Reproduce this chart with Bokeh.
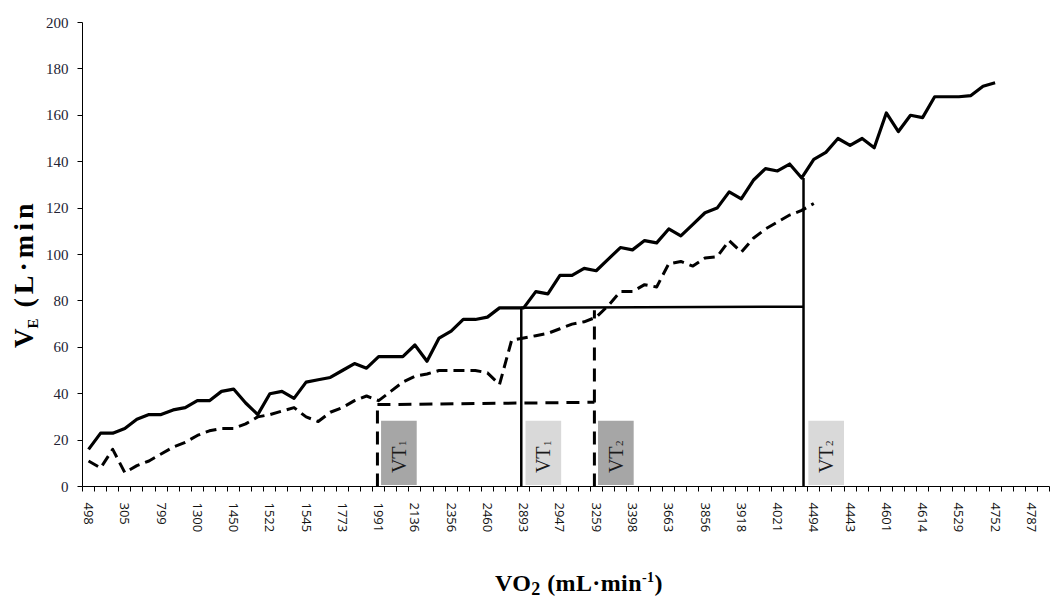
from math import pi
from bokeh.plotting import figure
from bokeh.models import Range1d, FixedTicker, Div
from bokeh.layouts import row, column
from bokeh.embed import file_html
from bokeh.resources import INLINE
from bokeh.core.properties import value

# ---------------- data ----------------
vo2_labels = ["498", "305", "799", "1300", "1450", "1522", "1545", "1773", "1991",
              "2136", "2356", "2460", "2893", "2947", "3259", "3398", "3663", "3856",
              "3918", "4021", "4494", "4443", "4601", "4614", "4529", "4752", "4787"]
n_categories = 80
label_every = 3

ve_solid = [16, 23, 23, 25, 29, 31, 31, 33, 34, 37,
            37, 41, 42, 36, 31, 40, 41, 38, 45, 46,
            47, 50, 53, 51, 56, 56, 56, 61, 54, 64,
            67, 72, 72, 73, 77, 77, 77, 84, 83, 91,
            91, 94, 93, 98, 103, 102, 106, 105, 111, 108,
            113, 118, 120, 127, 124, 132, 137, 136, 139, 133,
            141, 144, 150, 147, 150, 146, 161, 153, 160, 159,
            168, 168, 168, 168.5, 172.5, 174]

ve_dashed = [11, 8, 16, 6, 9, 11, 14, 17, 19, 22,
             24, 25, 25, 27, 30, 31, 32.5, 34, 30, 28,
             32, 34, 37, 39, 37, 41, 45, 47.5, 48.5, 50,
             50, 50, 50, 49, 44, 63, 64, 65, 66, 68,
             70, 71, 73, 78, 84, 84, 87, 86, 96, 97,
             95, 98.5, 99, 106, 101, 107, 111, 114, 117, 119,
             122]

# ventilatory thresholds: category position and VE level
vt_dashed_pos = [23.9, 41.85]      # VT1, VT2 (dashed series)
vt_dashed_level = [35.3, 76.0]
vt_dashed_link = [35.3, 36.3]      # horizontal link, left/right level
vt_solid_pos = [35.8, 59.15]       # VT1, VT2 (solid series)
vt_solid_level = [77.0, 133.0]
vt_solid_link = [77.0, 77.5]
vt_names = ["1", "2"]

# ---------------- figure ----------------
YT_W = 40          # width of the y-title strip
XT_H = 39          # height of the x-title strip
W, H = 1051 - YT_W, 599 - XT_H
p = figure(width=W, height=H, output_backend="svg", toolbar_location=None,
           x_range=Range1d(-0.5, n_categories - 0.5), y_range=Range1d(0, 200),
           min_border_left=82 - YT_W, min_border_right=2, min_border_top=22,
           min_border_bottom=H - 486)
p.outline_line_color = None
p.xgrid.visible = False
p.ygrid.visible = False
p.background_fill_color = "white"
p.border_fill_color = "white"

# x axis (category axis, label every 3rd category, ticks between categories)
label_pos = list(range(0, n_categories, label_every))[:len(vo2_labels)]
p.xaxis.ticker = FixedTicker(ticks=label_pos,
                             minor_ticks=[i - 0.5 for i in range(n_categories + 1)])
p.xaxis.major_label_overrides = {pos: lab for pos, lab in zip(label_pos, vo2_labels)}
p.xaxis.major_label_orientation = "vertical"
p.xaxis.major_tick_out = 0
p.xaxis.major_tick_in = 0
p.xaxis.minor_tick_out = 5
p.xaxis.minor_tick_in = 0
p.xaxis.minor_tick_line_color = "black"
p.xaxis.major_label_standoff = 11
p.xaxis.major_label_text_font = "Open Sans"
p.xaxis.major_label_text_font_size = "13px"
p.xaxis.major_label_text_color = "#111111"
p.xaxis.axis_line_color = "black"

# y axis
p.yaxis.ticker = FixedTicker(ticks=list(range(0, 201, 20)))
p.yaxis.major_tick_out = 5
p.yaxis.major_tick_in = 0
p.yaxis.minor_tick_line_color = None
p.yaxis.major_label_standoff = 9
p.yaxis.major_label_text_font = "Liberation Serif"
p.yaxis.major_label_text_font_size = "15px"
p.yaxis.major_label_text_color = "#222233"
p.yaxis.axis_line_color = "black"

# threshold boxes
box_left = [vt_dashed_pos[0] + 0.3, vt_solid_pos[0] + 0.35,
            vt_dashed_pos[1] + 0.3, vt_solid_pos[1] + 0.4]
box_colors = ["#a6a6a6", "#d9d9d9", "#a6a6a6", "#d9d9d9"]
box_sub = [vt_names[0], vt_names[0], vt_names[1], vt_names[1]]
p.quad(left=box_left, right=[b + 2.95 for b in box_left], bottom=0.6, top=28.3,
       fill_color=box_colors, line_color=None)
box_mid = [b + 1.45 for b in box_left]
p.text(x=box_mid, y=0.6, text=["VT"] * 4, angle=pi / 2,
       text_align="left", text_baseline="middle", y_offset=-12,
       text_font=value("Liberation Serif"), text_font_size="20px", text_color="#1a1a1a")
p.text(x=box_mid, y=0.6, text=box_sub, angle=pi / 2,
       text_align="left", text_baseline="middle", y_offset=-39, x_offset=4,
       text_font=value("Liberation Serif"), text_font_size="11px", text_color="#1a1a1a")

# threshold lines (dashed series)
p.segment(x0=[vt_dashed_pos[0], vt_dashed_pos[0], vt_dashed_pos[1]],
          y0=[0, vt_dashed_link[0], 0],
          x1=[vt_dashed_pos[0], vt_dashed_pos[1], vt_dashed_pos[1]],
          y1=[vt_dashed_level[0], vt_dashed_link[1], vt_dashed_level[1]],
          line_color="black", line_width=3, line_dash="13 8")
# threshold lines (solid series)
p.segment(x0=[vt_solid_pos[0], vt_solid_pos[0], vt_solid_pos[1]],
          y0=[0, vt_solid_link[0], 0],
          x1=[vt_solid_pos[0], vt_solid_pos[1], vt_solid_pos[1]],
          y1=[vt_solid_level[0], vt_solid_link[1], vt_solid_level[1]],
          line_color="black", line_width=2.5)

# data lines
p.line(x=list(range(len(ve_dashed))), y=ve_dashed, line_color="black",
       line_width=3, line_dash="11 6", line_join="round")
p.line(x=list(range(len(ve_solid))), y=ve_solid, line_color="black",
       line_width=3.2, line_join="round")

# ---------------- axis titles (HTML, for sub/superscripts) ----------------
FONT = "font-family:'Liberation Serif','Times New Roman',serif;font-weight:bold;color:#000;"
y_title_html = (
    f'<div style="position:relative;width:{YT_W}px;height:599px;">'
    f'<div style="position:absolute;left:10px;top:348px;transform-origin:0 0;'
    f'transform:rotate(-90deg);white-space:nowrap;{FONT}font-size:27px;line-height:27px;">'
    'V<span style="font-size:15px;position:relative;top:5px;">E</span>'
    '<span style="font-size:28px;letter-spacing:4px;"> (L·min</span></div></div>'
)
x_title_html = (
    f'<div style="position:relative;width:{W}px;height:{XT_H}px;">'
    f'<div style="position:absolute;left:{495 - YT_W}px;top:11px;white-space:nowrap;'
    f'{FONT}font-size:24px;line-height:24px;letter-spacing:0.4px;">'
    'VO<span style="font-size:18px;position:relative;top:4px;">2</span>'
    ' (mL·min<span style="font-size:14px;position:relative;top:-9px;">-1</span>)'
    '</div></div>'
)
y_title = Div(text=y_title_html, width=YT_W, height=599, margin=0)
x_title = Div(text=x_title_html, width=W, height=XT_H, margin=0)

layout = row(y_title, column(p, x_title, spacing=0), spacing=0)
open("out.html", "w").write(file_html(layout, INLINE))
